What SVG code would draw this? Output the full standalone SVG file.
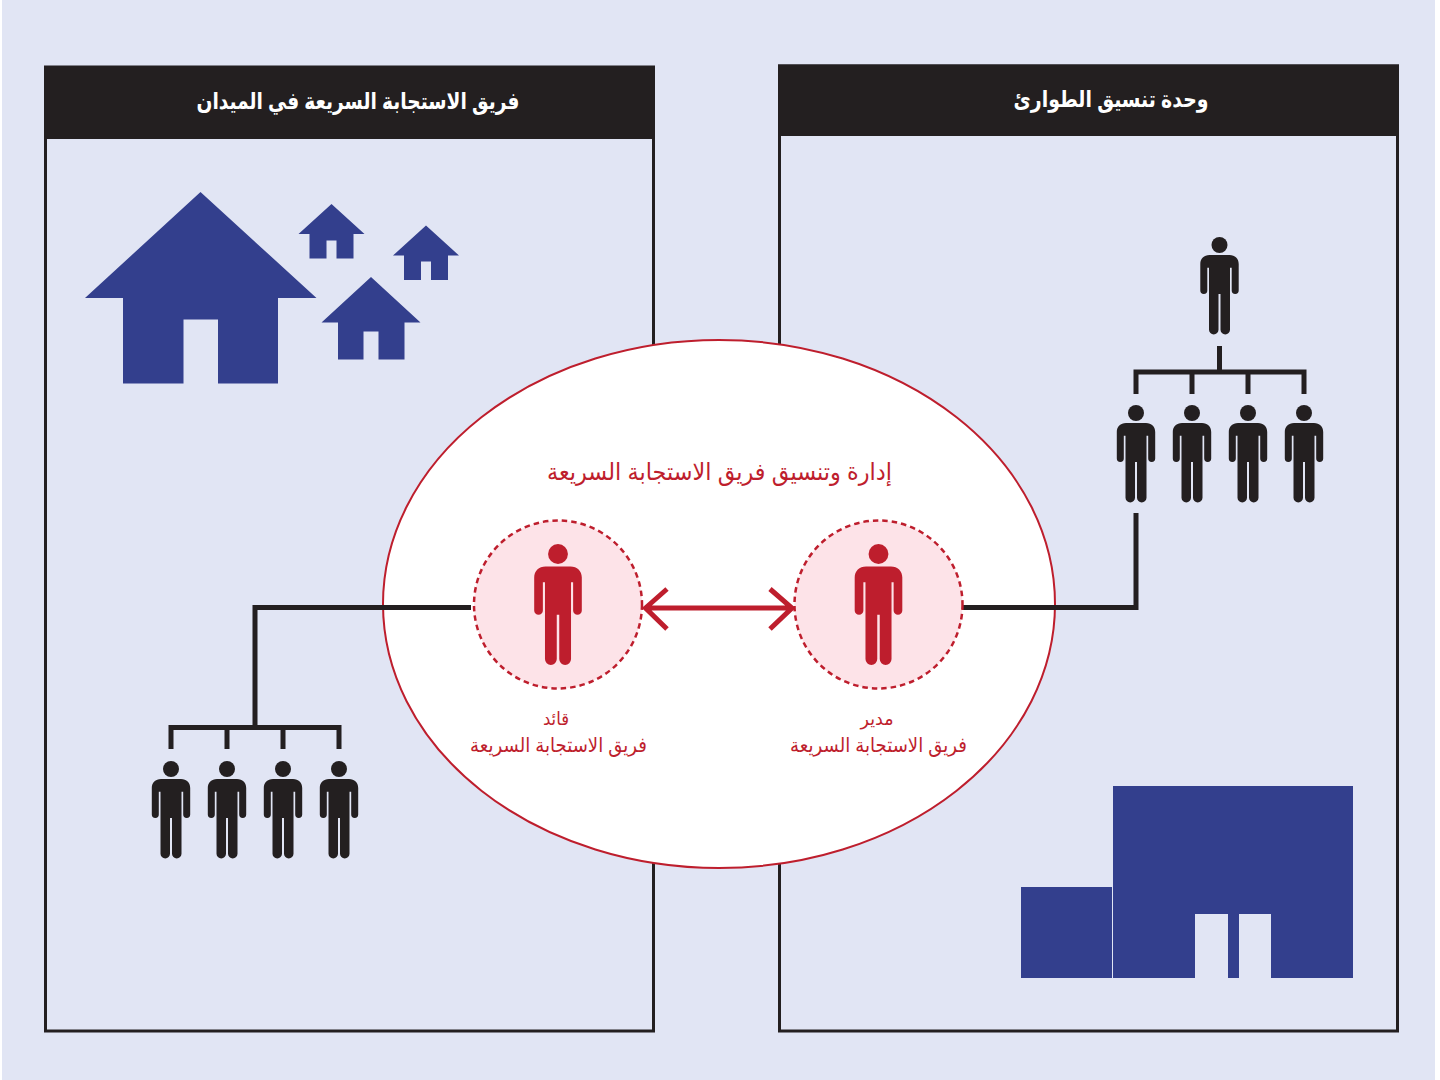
<svg xmlns="http://www.w3.org/2000/svg" xmlns:xlink="http://www.w3.org/1999/xlink" width="1440" height="1080" viewBox="0 0 1440 1080">
<style>
.ar{font-family:"Liberation Sans","DejaVu Sans",sans-serif;direction:rtl;text-anchor:middle}
.hd{font-size:23px;font-weight:bold;fill:#fff}
.rd{fill:#be1e2d}
.k{fill:#231f20}
.b{fill:#333f8d}
.box{fill:none;stroke:#231f20;stroke-width:3}
.ln{fill:none;stroke:#231f20;stroke-width:5}
</style>
<defs>
<g id="p"><circle cx="0" cy="0" r="8"/><path d="M-10 10H10C15.500 10 19.200 13.500 19.200 19V45.500A3.500 3.500 0 0 1 12.200 45.500V22.700H10.500V84.700A4.750 4.750 0 0 1 1 84.700V49H-1V84.700A4.750 4.750 0 0 1-10.500 84.700V22.700H-12.200V45.500A3.500 3.500 0 0 1-19.200 45.500V19C-19.200 13.500-15.500 10-10 10Z"/></g>
</defs>
<rect width="1440" height="1080" fill="#fff"/>
<rect x="2" y="0" width="1433" height="1080" fill="#e1e5f4"/>
<g id="left-panel">
<rect class="box" x="45.500" y="67" width="608" height="964"/>
<rect class="k" x="44" y="66" width="611" height="73"/>
<text class="ar hd" x="358" y="109" textLength="323" lengthAdjust="spacingAndGlyphs">فريق الاستجابة السريعة في الميدان</text>
</g>
<g id="right-panel">
<rect class="box" x="779.500" y="66" width="618" height="965"/>
<rect class="k" x="778" y="64.500" width="621" height="71.500"/>
<text class="ar hd" x="1111" y="107" textLength="195" lengthAdjust="spacingAndGlyphs">وحدة تنسيق الطوارئ</text>
</g>
<g id="houses" class="b">
<path d="M85 298 200.500 192 316.500 298H278V383.500H218V319.500H183.500V383.500H123V298Z"/>
<path d="M298.500 234 331.500 204 364.500 234H353.500V258.500H336.500V240.500H326.500V258.500H309.500V234Z"/>
<path d="M393 255.500 426 225.500 459 255.500H448V280H431V261.500H421V280H404V255.500Z"/>
<path d="M321.500 322.500 371 277 420.500 322.500H404.500V359.500H378.500V331.500H363.500V359.500H338V322.500Z"/>
</g>
<g id="building" class="b">
<rect x="1021" y="887" width="91" height="91"/>
<path d="M1113 786H1353V978H1271V914H1239V978H1228V914H1195V978H1113Z"/>
</g>
<g id="ellipse"><ellipse cx="719" cy="604" rx="336" ry="264" fill="#fff" stroke="#be1e2d" stroke-width="2"/>
<text class="ar rd" x="719.500" y="480" font-size="24" textLength="345" lengthAdjust="spacingAndGlyphs">إدارة وتنسيق فريق الاستجابة السريعة</text></g>
<g id="connectors">
<path class="ln" d="M471 607.500H255V727.500M171 749V727.500H339V749M227 727V749M283 727V749"/>
<path class="ln" d="M962 607.500H1136V513M1219.500 346V372M1136 394V372H1304V394M1192 372V394M1248 372V394"/>
<path d="M645 608H792M667 589 645.500 608 667 629M770 589 792 608 770 629" fill="none" stroke="#be1e2d" stroke-width="5"/>
</g>
<g id="leader">
<circle cx="558" cy="604.500" r="84" fill="#fde3e8" stroke="#be1e2d" stroke-width="2.500" stroke-dasharray="5.500 4"/>
<use xlink:href="#p" href="#p" transform="translate(558 554) scale(1.24)" class="rd"/>
<text class="ar rd" x="556" y="725" font-size="18" textLength="26" lengthAdjust="spacingAndGlyphs">قائد</text>
<text class="ar rd" x="558.500" y="752" font-size="20" textLength="177" lengthAdjust="spacingAndGlyphs">فريق الاستجابة السريعة</text>
</g>
<g id="manager">
<circle cx="878.500" cy="604.500" r="84" fill="#fde3e8" stroke="#be1e2d" stroke-width="2.500" stroke-dasharray="5.500 4"/>
<use xlink:href="#p" href="#p" transform="translate(878.500 554) scale(1.24)" class="rd"/>
<text class="ar rd" x="877" y="725" font-size="18" textLength="33" lengthAdjust="spacingAndGlyphs">مدير</text>
<text class="ar rd" x="878.500" y="752" font-size="20" textLength="177" lengthAdjust="spacingAndGlyphs">فريق الاستجابة السريعة</text>
</g>
<g id="people-right" class="k">
<use href="#p" x="1219.500" y="245"/>
<use href="#p" x="1136" y="413"/><use href="#p" x="1192" y="413"/><use href="#p" x="1248" y="413"/><use href="#p" x="1304" y="413"/>
</g>
<g id="people-left" class="k">
<use href="#p" x="171" y="769"/><use href="#p" x="227" y="769"/><use href="#p" x="283" y="769"/><use href="#p" x="339" y="769"/>
</g>
</svg>
